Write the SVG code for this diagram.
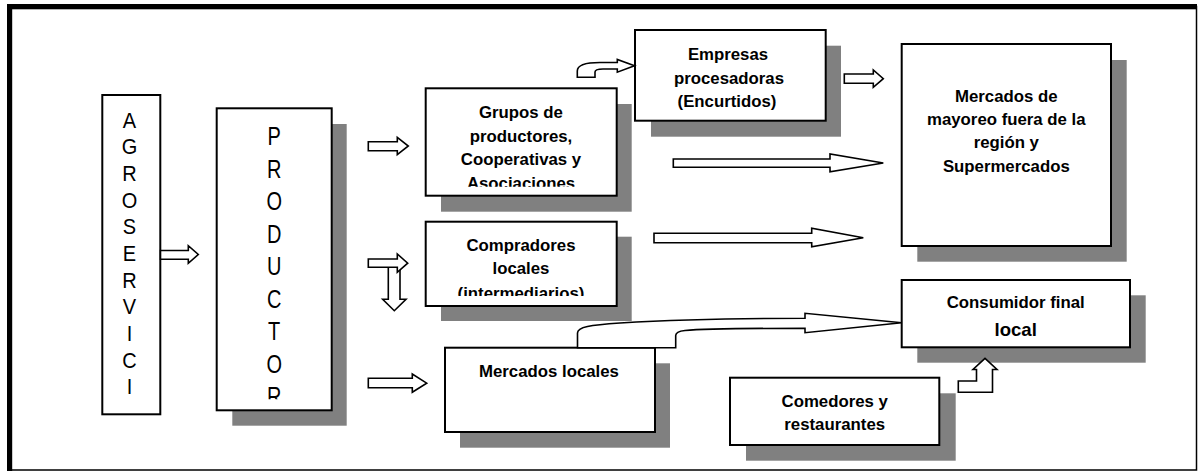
<svg xmlns="http://www.w3.org/2000/svg" width="1198" height="472" viewBox="0 0 1198 472">
<style>
.box{fill:#fff;stroke:#000;stroke-width:2}
.sh{fill:#808080}
.t{font-family:"Liberation Sans",Arial,sans-serif;font-weight:bold;font-size:16.8px;fill:#000;text-anchor:middle}
.v{font-family:"Liberation Sans",Arial,sans-serif;font-size:20px;fill:#000;text-anchor:middle}
.arr{fill:#fff;stroke:#000;stroke-width:1.6;stroke-linejoin:miter}
</style>
<defs>
<clipPath id="cpProd"><rect x="217" y="109" width="114" height="290.3"/></clipPath>
<clipPath id="cpGrupos"><rect x="426" y="89" width="190" height="97.7"/></clipPath>
<clipPath id="cpComp"><rect x="426" y="222" width="190" height="74"/></clipPath>
</defs>
<rect width="1198" height="472" fill="#fff"/>
<g id="frame">
<rect x="9.5" y="6.5" width="1187" height="463.5" fill="none" stroke="#000" stroke-width="1.5"/>
<rect x="7" y="4" width="1190" height="5.3" fill="#000"/>
<rect x="7" y="4" width="5.2" height="467" fill="#000"/>
</g>
<g id="agroservici">
<rect class="box" x="102.3" y="95" width="58" height="319.3"/>
<text class="v" transform="translate(129.5,127.7) scale(1,1.12)">A</text>
<text class="v" transform="translate(129.5,154.4) scale(1,1.12)">G</text>
<text class="v" transform="translate(129.5,181) scale(1,1.12)">R</text>
<text class="v" transform="translate(129.5,207.7) scale(1,1.12)">O</text>
<text class="v" transform="translate(129.5,234.4) scale(1,1.12)">S</text>
<text class="v" transform="translate(129.5,261) scale(1,1.12)">E</text>
<text class="v" transform="translate(129.5,287.7) scale(1,1.12)">R</text>
<text class="v" transform="translate(129.5,314.4) scale(1,1.12)">V</text>
<text class="v" transform="translate(129.5,341) scale(1,1.12)">I</text>
<text class="v" transform="translate(129.5,367.7) scale(1,1.12)">C</text>
<text class="v" transform="translate(129.5,394.4) scale(1,1.12)">I</text>
</g>
<g id="productor">
<rect class="sh" x="232.3" y="124" width="114.4" height="301.7"/>
<rect class="box" x="216.7" y="108.3" width="115" height="302"/>
<g clip-path="url(#cpProd)">
<text class="v" transform="translate(274.2,145) scale(1,1.33)">P</text>
<text class="v" transform="translate(274.2,177.5) scale(1,1.33)">R</text>
<text class="v" transform="translate(274.2,210) scale(1,1.33)">O</text>
<text class="v" transform="translate(274.2,242.5) scale(1,1.33)">D</text>
<text class="v" transform="translate(274.2,275) scale(1,1.33)">U</text>
<text class="v" transform="translate(274.2,307.5) scale(1,1.33)">C</text>
<text class="v" transform="translate(274.2,340) scale(1,1.33)">T</text>
<text class="v" transform="translate(274.2,372.5) scale(1,1.33)">O</text>
<text class="v" transform="translate(274.2,405) scale(1,1.33)">R</text>
</g>
</g>
<g id="grupos">
<rect class="sh" x="441" y="104" width="190.7" height="107.7"/>
<rect class="box" x="425.7" y="88.3" width="191" height="107.4"/>
<g clip-path="url(#cpGrupos)">
<text class="t" x="521" y="118.3">Grupos de</text>
<text class="t" x="521" y="141.8">productores,</text>
<text class="t" x="521" y="165.3">Cooperativas y</text>
<text class="t" x="521" y="188.8">Asociaciones</text>
</g>
</g>
<g id="empresas">
<rect class="sh" x="651" y="45.7" width="190" height="91"/>
<rect class="box" x="635" y="30" width="190.7" height="90.7"/>
<text class="t" x="728" y="60">Empresas</text>
<text class="t" x="729" y="83.5">procesadoras</text>
<text class="t" x="727" y="107">(Encurtidos)</text>
</g>
<g id="mayoreo">
<rect class="sh" x="917.3" y="60" width="209.4" height="201.7"/>
<rect class="box" x="901.7" y="44" width="209.3" height="202"/>
<text class="t" x="1006.3" y="101.7">Mercados de</text>
<text class="t" x="1006.3" y="125">mayoreo fuera de la</text>
<text class="t" x="1006.3" y="148.3">región y</text>
<text class="t" x="1006.3" y="171.7">Supermercados</text>
</g>
<g id="compradores">
<rect class="sh" x="441" y="236.7" width="190.7" height="84.3"/>
<rect class="box" x="425.7" y="221.7" width="191" height="84.3"/>
<g clip-path="url(#cpComp)">
<text class="t" x="521" y="250.7">Compradores</text>
<text class="t" x="521" y="274.2">locales</text>
<text class="t" x="521" y="298.5">(intermediarios)</text>
</g>
</g>
<g id="mercados-locales">
<rect class="sh" x="460" y="363.3" width="210" height="84.4"/>
<rect class="box" x="445" y="347.7" width="210" height="84.3"/>
<text class="t" x="549" y="376.7">Mercados locales</text>
</g>
<g id="consumidor">
<rect class="sh" x="917.3" y="295.3" width="228.4" height="67.4"/>
<rect class="box" x="901.7" y="280" width="228.3" height="67.3"/>
<text class="t" x="1015.7" y="308.3">Consumidor final</text>
<text class="t" x="1015.7" y="336" style="font-size:18.6px">local</text>
</g>
<g id="comedores">
<rect class="sh" x="746" y="393.3" width="209.7" height="67.4"/>
<rect class="box" x="730" y="377.7" width="209.3" height="67.3"/>
<text class="t" x="834.7" y="406.7">Comedores y</text>
<text class="t" x="834.7" y="430">restaurantes</text>
</g>
<g id="connectors">
<path class="arr" d="M160.5,250.5 H188.3 V245.7 L198.3,254.5 L188.3,263.3 V259.3 H160.5 Z"/>
<path class="arr" d="M368.3,141.7 H397.3 V137.3 L408.3,146 L397.3,154.7 V150.7 H368.3 Z"/>
<path class="arr" d="M388.3,267.3 V299.3 H382.7 L394.3,310.7 L406,299.3 H400 V267.3 Z"/>
<path class="arr" d="M368.3,259 H397.3 V254 L407.7,263.2 L397.3,272.3 V267.3 H368.3 Z"/>
<path class="arr" d="M368.3,378.3 H412.3 V374 L426.7,383.2 L412.3,392.3 V387.7 H368.3 Z"/>
<path class="arr" d="M577.3,77.3 V71 C577.3,65 585,62.5 600,62.5 H617.3 V59.5 L634.5,65.8 L617.3,72.2 V69 H603 C597,69 595,70 595,72 V77.3 Z"/>
<path class="arr" d="M844.3,74 H873.3 V70 L883.3,78.7 L873.3,87.3 V83.3 H844.3 Z"/>
<path class="arr" d="M673.3,159 H830 V154 L883.3,163 L830,171.7 V167.3 H673.3 Z"/>
<path class="arr" d="M654,233.3 H811.7 V228.3 L863.3,237.7 L811.7,246.7 V242.7 H654 Z"/>
<path class="arr" d="M577.5,347.7 V333 C577.5,327 590,325 620,323 C680,319.5 750,318.3 805,318.3 V313.3 L901.7,322.7 L805,332.7 V328.3 C750,328.3 700,329 685,330.5 C678,331.2 675.7,332.5 675.7,335.5 V347.7 Z"/>
<path class="arr" d="M958.3,381 H976.5 V369.5 H973 L985,358.3 L997,369.5 H992.5 V392.3 H958.3 Z"/>
</g>
</svg>
